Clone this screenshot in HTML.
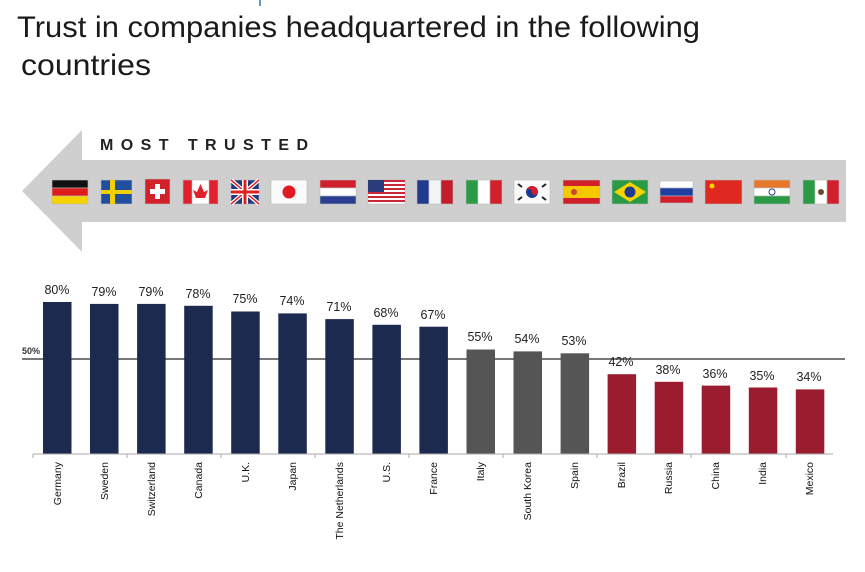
<!DOCTYPE html>
<html><head><meta charset="utf-8"><style>
html,body{margin:0;padding:0;background:#fff;}
svg{display:block;}
.t{font-family:"Liberation Sans",sans-serif;}
.v{font-family:"Liberation Sans",sans-serif;font-size:12.5px;fill:#222;text-anchor:middle;}
.c{font-family:"Liberation Sans",sans-serif;font-size:10.5px;fill:#111;text-anchor:end;}
</style></head><body>
<svg width="865" height="572" viewBox="0 0 865 572" xmlns="http://www.w3.org/2000/svg">
<rect width="865" height="572" fill="#fff"/>
<line x1="260" y1="0" x2="260" y2="6" stroke="#2a7ab8" stroke-width="1.5"/>
<g class="t" font-size="30" fill="#1a1a1a">
<text x="17" y="37" textLength="683" lengthAdjust="spacingAndGlyphs">Trust in companies headquartered in the following</text>
<text x="21" y="75" textLength="130" lengthAdjust="spacingAndGlyphs">countries</text>
</g>
<polygon points="22,191 82,130 82,160 846,160 846,222 82,222 82,252" fill="#cfcfcf"/>
<text x="100" y="150" class="t" font-size="16" font-weight="bold" fill="#222" textLength="208" lengthAdjust="spacing">MOST  TRUSTED</text>
<g stroke="#bbb" stroke-width="0.6">
<rect x="52" y="180" width="36" height="8" fill="#111"/><rect x="52" y="188" width="36" height="8" fill="#dd1c1c"/><rect x="52" y="196" width="36" height="8" fill="#f5d200"/>
<rect x="101" y="180" width="31" height="24" fill="#1f4fa0"/><rect x="110" y="180" width="5" height="24" fill="#f2d000" stroke="none"/><rect x="101" y="190" width="31" height="4" fill="#f2d000" stroke="none"/>
<rect x="145" y="179" width="25" height="25" fill="#d3212b"/><rect x="155" y="184" width="5" height="15" fill="#fff" stroke="none"/><rect x="150" y="189" width="15" height="5" fill="#fff" stroke="none"/>
<rect x="183" y="180" width="35" height="24" fill="#fff"/><rect x="183" y="180" width="9" height="24" fill="#e0202a"/><rect x="209" y="180" width="9" height="24" fill="#e0202a"/><polygon points="200.5,184 204,192 208,190 205,198 196,198 193,190 197,192" fill="#e0202a" stroke="none"/>
<rect x="231" y="180" width="28" height="24" fill="#1f3a7a"/><path d="M231 180 L259 204 M259 180 L231 204" stroke="#fff" stroke-width="4"/><path d="M231 180 L259 204 M259 180 L231 204" stroke="#d22" stroke-width="1.5"/><rect x="242" y="180" width="6" height="24" fill="#fff" stroke="none"/><rect x="231" y="189" width="28" height="6" fill="#fff" stroke="none"/><rect x="243.5" y="180" width="3" height="24" fill="#d22" stroke="none"/><rect x="231" y="190.5" width="28" height="3" fill="#d22" stroke="none"/>
<rect x="271" y="180" width="36" height="24" fill="#fafafa"/><circle cx="289" cy="192" r="6.5" fill="#e01b24" stroke="none"/>
<rect x="320" y="180" width="36" height="8" fill="#d0202a"/><rect x="320" y="188" width="36" height="8" fill="#fff"/><rect x="320" y="196" width="36" height="8" fill="#2a3f8f"/>
<rect x="368" y="180" width="37" height="24" fill="#fff"/>
<g stroke="none" fill="#c8283a"><rect x="368" y="180" width="37" height="2"/><rect x="368" y="184" width="37" height="2"/><rect x="368" y="188" width="37" height="2"/><rect x="368" y="192" width="37" height="2"/><rect x="368" y="196" width="37" height="2"/><rect x="368" y="200" width="37" height="2"/></g>
<rect x="368" y="180" width="16" height="12" fill="#2b3c7a" stroke="none"/>
<rect x="417" y="180" width="12" height="24" fill="#1f3a8f"/><rect x="429" y="180" width="12" height="24" fill="#f4f4f4"/><rect x="441" y="180" width="12" height="24" fill="#c31d2b"/>
<rect x="466" y="180" width="12" height="24" fill="#2a9a44"/><rect x="478" y="180" width="12" height="24" fill="#fff"/><rect x="490" y="180" width="12" height="24" fill="#d21f2b"/>
<rect x="514" y="180" width="36" height="24" fill="#fafafa"/><circle cx="532" cy="192" r="6" fill="#1f3a8f" stroke="none"/><path d="M526 192 A6 6 0 0 1 538 192 A3 3 0 0 1 532 192 A3 3 0 0 0 526 192Z" fill="#d21f2b" stroke="none"/><g stroke="#222" stroke-width="2"><line x1="518" y1="184" x2="522" y2="187"/><line x1="546" y1="184" x2="542" y2="187"/><line x1="518" y1="200" x2="522" y2="197"/><line x1="546" y1="200" x2="542" y2="197"/></g>
<rect x="563" y="180" width="37" height="24" fill="#d2202a"/><rect x="563" y="186" width="37" height="12" fill="#f6c800" stroke="none"/><circle cx="574" cy="192" r="3" fill="#c43" stroke="none"/>
<rect x="612" y="180" width="36" height="24" fill="#2a9a44"/><polygon points="630,182 646,192 630,202 614,192" fill="#f5d200" stroke="none"/><circle cx="630" cy="192" r="5.5" fill="#1f3a8f" stroke="none"/>
<rect x="660" y="181" width="33" height="7" fill="#fff"/><rect x="660" y="188" width="33" height="8" fill="#1f3fa0"/><rect x="660" y="196" width="33" height="7" fill="#d21f2b"/>
<rect x="705" y="180" width="37" height="24" fill="#de2820"/><circle cx="712" cy="186" r="2.5" fill="#f5d200" stroke="none"/>
<rect x="754" y="180" width="36" height="8" fill="#e8782a"/><rect x="754" y="188" width="36" height="8" fill="#fff"/><rect x="754" y="196" width="36" height="8" fill="#2a9a44"/><circle cx="772" cy="192" r="3" fill="none" stroke="#2a3f8f" stroke-width="1"/>
<rect x="803" y="180" width="12" height="24" fill="#2a9a44"/><rect x="815" y="180" width="12" height="24" fill="#fff"/><rect x="827" y="180" width="12" height="24" fill="#d21f2b"/><circle cx="821" cy="192" r="3" fill="#6b4a2a" stroke="none"/>
</g>

<line x1="22" y1="359" x2="845" y2="359" stroke="#777" stroke-width="2"/>
<text x="22" y="354" font-family="Liberation Sans,sans-serif" font-size="9" font-weight="bold" fill="#333">50%</text>

<g fill="#1d2a4f">
<rect x="43" y="302" width="28.5" height="152"/>
<rect x="90" y="303.9" width="28.5" height="150.1"/>
<rect x="137.1" y="303.9" width="28.5" height="150.1"/>
<rect x="184.2" y="305.8" width="28.5" height="148.2"/>
<rect x="231.2" y="311.5" width="28.5" height="142.5"/>
<rect x="278.3" y="313.4" width="28.5" height="140.6"/>
<rect x="325.3" y="319.1" width="28.5" height="134.9"/>
<rect x="372.4" y="324.8" width="28.5" height="129.2"/>
<rect x="419.4" y="326.7" width="28.5" height="127.3"/>
</g>
<g fill="#555555">
<rect x="466.5" y="349.5" width="28.5" height="104.5"/>
<rect x="513.5" y="351.4" width="28.5" height="102.6"/>
<rect x="560.6" y="353.3" width="28.5" height="100.7"/>
</g>
<g fill="#9b1c2e">
<rect x="607.6" y="374.2" width="28.5" height="79.8"/>
<rect x="654.7" y="381.8" width="28.5" height="72.2"/>
<rect x="701.7" y="385.6" width="28.5" height="68.4"/>
<rect x="748.8" y="387.5" width="28.5" height="66.5"/>
<rect x="795.8" y="389.4" width="28.5" height="64.6"/>
</g>

<text class="v" x="57" y="294">80%</text>
<text class="v" x="104" y="296">79%</text>
<text class="v" x="151" y="296">79%</text>
<text class="v" x="198" y="298">78%</text>
<text class="v" x="245" y="303">75%</text>
<text class="v" x="292" y="305">74%</text>
<text class="v" x="339" y="311">71%</text>
<text class="v" x="386" y="317">68%</text>
<text class="v" x="433" y="319">67%</text>
<text class="v" x="480" y="341">55%</text>
<text class="v" x="527" y="343">54%</text>
<text class="v" x="574" y="345">53%</text>
<text class="v" x="621" y="366">42%</text>
<text class="v" x="668" y="374">38%</text>
<text class="v" x="715" y="378">36%</text>
<text class="v" x="762" y="380">35%</text>
<text class="v" x="809" y="381">34%</text>

<text class="c" transform="translate(61 462) rotate(-90)">Germany</text>
<text class="c" transform="translate(108 462) rotate(-90)">Sweden</text>
<text class="c" transform="translate(155 462) rotate(-90)">Switzerland</text>
<text class="c" transform="translate(202 462) rotate(-90)">Canada</text>
<text class="c" transform="translate(249 462) rotate(-90)">U.K.</text>
<text class="c" transform="translate(296 462) rotate(-90)">Japan</text>
<text class="c" transform="translate(343 462) rotate(-90)">The Netherlands</text>
<text class="c" transform="translate(390 462) rotate(-90)">U.S.</text>
<text class="c" transform="translate(437 462) rotate(-90)">France</text>
<text class="c" transform="translate(484 462) rotate(-90)">Italy</text>
<text class="c" transform="translate(531 462) rotate(-90)">South Korea</text>
<text class="c" transform="translate(578 462) rotate(-90)">Spain</text>
<text class="c" transform="translate(625 462) rotate(-90)">Brazil</text>
<text class="c" transform="translate(672 462) rotate(-90)">Russia</text>
<text class="c" transform="translate(719 462) rotate(-90)">China</text>
<text class="c" transform="translate(766 462) rotate(-90)">India</text>
<text class="c" transform="translate(813 462) rotate(-90)">Mexico</text>

<line x1="33" y1="454" x2="833" y2="454" stroke="#aaa" stroke-width="1"/>
<g stroke="#aaa" stroke-width="1">
<line x1="33" y1="454" x2="33" y2="458"/><line x1="127" y1="454" x2="127" y2="458"/><line x1="221" y1="454" x2="221" y2="458"/><line x1="315" y1="454" x2="315" y2="458"/><line x1="409" y1="454" x2="409" y2="458"/><line x1="503" y1="454" x2="503" y2="458"/><line x1="597" y1="454" x2="597" y2="458"/><line x1="691" y1="454" x2="691" y2="458"/><line x1="786" y1="454" x2="786" y2="458"/>
</g>
</svg>
</body></html>
